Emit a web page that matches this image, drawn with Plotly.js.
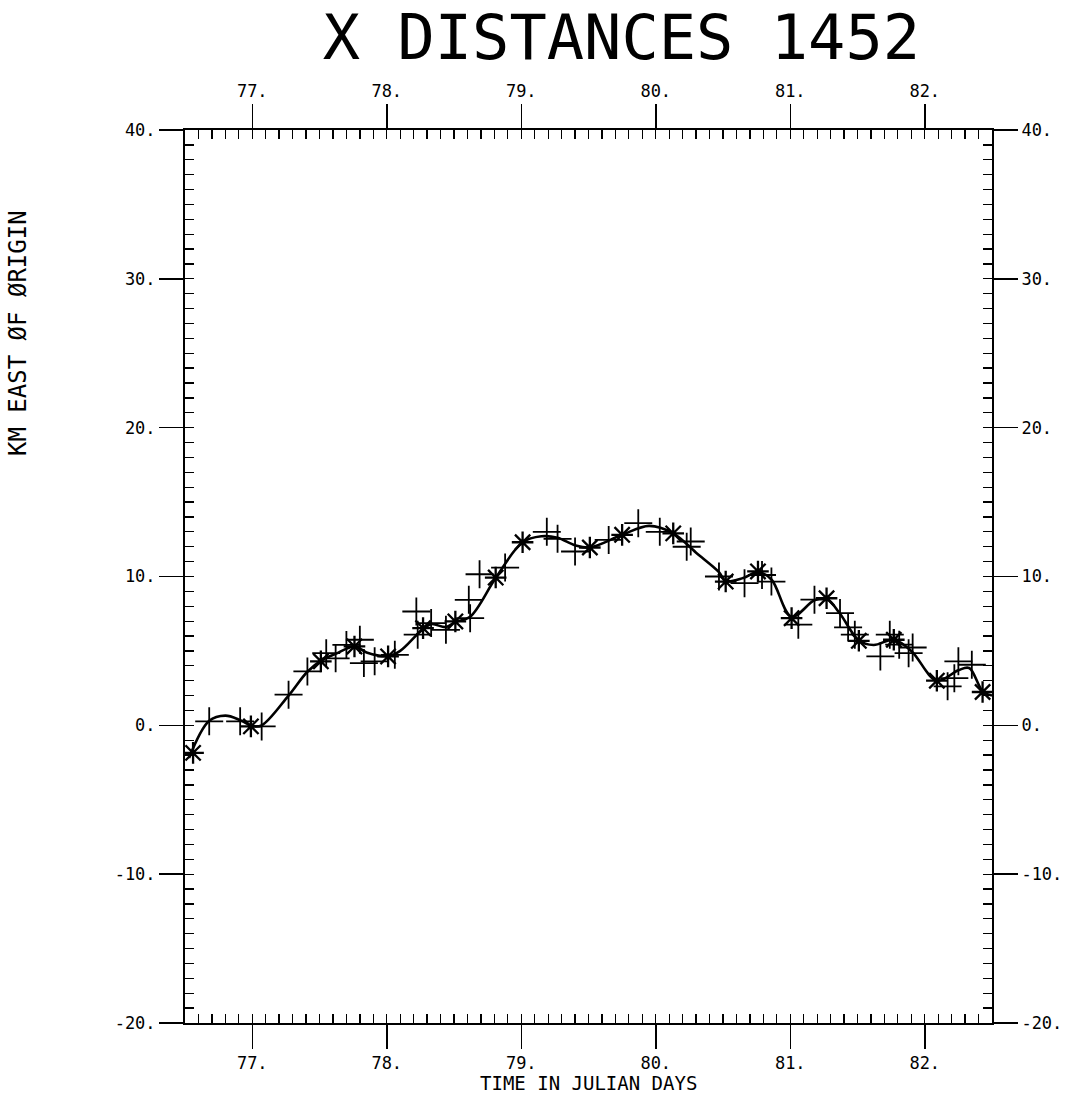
<!DOCTYPE html>
<html>
<head>
<meta charset="utf-8">
<script src="https://cdn.plot.ly/plotly-3.0.1.min.js"></script>
<style>html,body{margin:0;padding:0;background:#fff}#chart{width:1077px;height:1103px}</style>
</head>
<body>
<div id="chart"></div>
<script>
// Smooth fitted curve
const curveX = [76.53,76.68,76.80,76.91,77.00,77.07,77.27,77.41,77.52,77.62,77.76,77.85,78.01,78.10,78.25,78.33,78.44,78.51,78.62,78.81,79.01,79.15,79.27,79.40,79.51,79.75,79.95,80.13,80.30,80.47,80.52,80.65,80.76,80.86,81.01,81.18,81.27,81.37,81.51,81.62,81.77,81.90,82.09,82.25,82.33,82.43,82.50];
const curveY = [-2.2,0.3,0.65,0.35,-0.05,0.0,2.0,3.6,4.4,4.8,5.3,4.9,4.65,5.0,6.3,6.8,6.6,6.95,7.3,9.9,12.3,12.7,12.6,12.1,11.95,12.8,13.4,12.9,11.6,10.3,9.7,9.9,10.3,9.8,7.3,8.4,8.5,7.5,5.7,5.4,5.75,5.0,3.0,3.7,3.85,2.3,2.0];

// Asterisk points
const starX = [76.56,76.99,77.51,77.76,78.01,78.27,78.51,78.81,79.01,79.51,79.75,80.13,80.52,80.76,81.01,81.27,81.51,81.77,82.09,82.43];
const starY = [-1.85,-0.07,4.3,5.3,4.63,6.53,6.98,9.93,12.3,11.95,12.8,12.9,9.66,10.34,7.2,8.54,5.68,5.75,3.0,2.24];

// Plus points
const plusX = [76.68,76.91,77.07,77.27,77.41,77.55,77.62,77.70,77.80,77.83,77.91,78.06,78.22,78.23,78.33,78.44,78.62,78.61,78.69,78.88,79.19,79.27,79.40,79.65,79.87,80.03,80.23,80.26,80.47,80.66,80.79,80.86,81.06,81.18,81.37,81.43,81.48,81.67,81.74,81.81,81.88,81.91,82.17,82.22,82.25,82.35];
const plusY = [0.27,0.27,-0.07,2.06,3.62,4.85,4.5,5.4,5.75,4.18,4.3,4.74,7.65,6.09,6.87,6.42,7.2,8.43,10.15,10.6,13.0,12.53,11.68,12.46,13.58,13.0,12.0,12.35,10.0,9.55,10.1,9.66,6.76,8.44,7.54,6.58,6.09,4.63,6.09,5.42,4.85,5.23,2.62,3.17,4.3,4.07];

const xTickVals = [77,78,79,80,81,82];
const xTickText = ["77.","78.","79.","80.","81.","82."];
const yTickVals = [-20,-10,0,10,20,30,40];
const yTickText = ["-20.","-10.","0.","10.","20.","30.","40."];

const FONT = "DejaVu Sans Mono";
const tickFont = {family: FONT, size: 17, color: "#000"};
const X_RANGE = [76.5, 82.5];
const Y_RANGE = [-20, 40];

function majorX(extra) {
  return Object.assign({
    range: X_RANGE, tickvals: xTickVals, ticktext: xTickText,
    ticks: "outside", ticklen: 24, tickwidth: 1.5, tickcolor: "#000",
    showgrid: false, zeroline: false, showline: true, linecolor: "#000", linewidth: 2,
    tickfont: tickFont
  }, extra);
}
function majorY(extra) {
  return Object.assign({
    range: Y_RANGE, tickvals: yTickVals, ticktext: yTickText,
    ticks: "outside", ticklen: 24, tickwidth: 1.5, tickcolor: "#000",
    showgrid: false, zeroline: false, showline: true, linecolor: "#000", linewidth: 2,
    tickfont: tickFont
  }, extra);
}
function minorX(extra) {
  return Object.assign({
    range: X_RANGE, tickmode: "linear", tick0: 0, dtick: 0.1,
    ticks: "inside", ticklen: 9, tickwidth: 1.3, tickcolor: "#000",
    showticklabels: false, showgrid: false, zeroline: false, showline: false
  }, extra);
}
function minorY(extra) {
  return Object.assign({
    range: Y_RANGE, tickmode: "linear", tick0: 0, dtick: 1,
    ticks: "inside", ticklen: 9, tickwidth: 1.3, tickcolor: "#000",
    showticklabels: false, showgrid: false, zeroline: false, showline: false
  }, extra);
}

const traces = [
  {x: curveX, y: curveY, mode: "lines", line: {color: "#000", width: 2.6, shape: "spline", smoothing: 1}, hoverinfo: "skip"},
  {x: plusX, y: plusY, mode: "markers", marker: {symbol: "cross-thin-open", size: 20, color: "#000", line: {color: "#000", width: 1.8}}},
  {x: starX, y: starY, mode: "markers", marker: {symbol: "asterisk-open", size: 18, color: "#000", line: {color: "#000", width: 2.3}}},
  {x: [], y: [], xaxis: "x2", yaxis: "y2", mode: "markers"},
  {x: [], y: [], xaxis: "x3", yaxis: "y3", mode: "markers"},
  {x: [], y: [], xaxis: "x4", yaxis: "y4", mode: "markers"}
];

const layout = {
  width: 1077, height: 1103,
  margin: {l: 185, r: 85, t: 130, b: 80},
  paper_bgcolor: "#fff", plot_bgcolor: "#fff",
  showlegend: false,
  title: {text: "X DISTANCES 1452", font: {family: FONT, size: 62, color: "#000"}, x: 0.577, xanchor: "center", y: 0.966, yanchor: "middle"},
  xaxis: majorX({side: "bottom"}),
  xaxis2: majorX({side: "top", overlaying: "x", anchor: "y"}),
  xaxis3: minorX({side: "bottom", overlaying: "x", anchor: "y"}),
  xaxis4: minorX({side: "top", overlaying: "x", anchor: "y"}),
  yaxis: majorY({side: "left"}),
  yaxis2: majorY({side: "right", overlaying: "y", anchor: "x"}),
  yaxis3: minorY({side: "left", overlaying: "y", anchor: "x"}),
  yaxis4: minorY({side: "right", overlaying: "y", anchor: "x"}),
  annotations: [
    {text: "TIME IN JULIAN DAYS", xref: "paper", yref: "paper", x: 0.5, y: (1023-1083)/893, xanchor: "center", yanchor: "middle", showarrow: false, font: {family: FONT, size: 19, color: "#000"}},
    {text: "KM EAST ØF ØRIGIN", xref: "paper", yref: "paper", x: (18-185)/807, y: (1023-333)/893, xanchor: "center", yanchor: "middle", textangle: -90, showarrow: false, font: {family: FONT, size: 24, color: "#000"}}
  ]
};

Plotly.newPlot("chart", traces, layout, {staticPlot: true});
</script>
</body>
</html>
